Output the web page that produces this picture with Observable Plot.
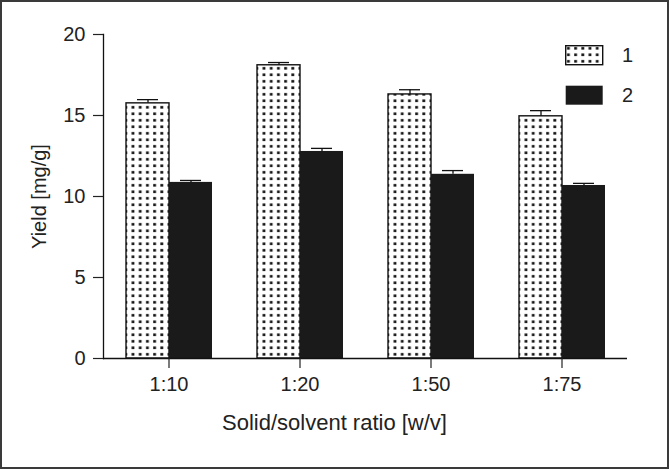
<!DOCTYPE html>
<html>
<head>
<meta charset="utf-8">
<script src="https://cdn.jsdelivr.net/npm/d3@7"></script>
<script src="https://cdn.jsdelivr.net/npm/@observablehq/plot@0.6"></script>
<style>
  html, body { margin: 0; padding: 0; background: #fff; }
  #wrap { position: relative; width: 669px; height: 469px; overflow: hidden; }
  #chart svg text { font-size: 20px; fill: #222; font-family: "Liberation Sans", Arial, sans-serif; }
  #border { position: absolute; left: 0; top: 0; width: 669px; height: 469px; box-sizing: border-box; border: 2px solid #3a3a3a; pointer-events: none; }
  #xtitle { position: absolute; left: 0; width: 669px; top: 412px; text-align: center; font-family: "Liberation Sans", Arial, sans-serif; font-size: 22px; line-height: 22px; color: #222; }
  #legend { position: absolute; left: 565px; top: 45px; font-family: "Liberation Sans", Arial, sans-serif; font-size: 20px; color: #222; }
  .item { position: absolute; left: 0; width: 90px; height: 20px; }
  .item svg { position: absolute; left: 0; top: 0; }
  .item span { position: absolute; left: 57px; top: -2px; line-height: 24px; }
</style>
</head>
<body>
<div id="wrap">
  <div id="chart"></div>
  <div id="xtitle"></div>
  <div id="legend"></div>
  <div id="border"></div>
</div>
<script>
const ratios = ["1:10", "1:20", "1:50", "1:75"];
const seriesNames = ["1", "2"];
const values1 = [15.75, 18.1, 16.3, 14.95];
const values2 = [10.87, 12.78, 11.37, 10.68];
const errors1 = [0.23, 0.17, 0.29, 0.35];
const errors2 = [0.12, 0.19, 0.23, 0.13];
const yTicks = [0, 5, 10, 15, 20];
const xTitle = "Solid/solvent ratio [w/v]";
const yTitle = "Yield [mg/g]";

const rows = [];
ratios.forEach((r, i) => {
  rows.push({ratio: r, series: seriesNames[0], value: values1[i], err: errors1[i]});
  rows.push({ratio: r, series: seriesNames[1], value: values2[i], err: errors2[i]});
});
const s1 = rows.filter(d => d.series === seriesNames[0]);
const s2 = rows.filter(d => d.series === seriesNames[1]);

const chart = Plot.plot({
  width: 669,
  height: 469,
  marginLeft: 103,
  marginRight: 42,
  marginTop: 34,
  marginBottom: 111,
  style: {fontFamily: "'Liberation Sans', Arial, sans-serif", fontSize: "20px", color: "#222", background: "transparent"},
  fx: {domain: ratios, padding: 0},
  x: {domain: seriesNames, paddingInner: 0, paddingOuter: 0.49, axis: null, label: null},
  y: {domain: [0, 20]},
  marks: [
    Plot.barY(s1, {fx: "ratio", x: "series", y: "value", fill: "url(#dots)", stroke: "#111", strokeWidth: 1.4, inset: 0}),
    Plot.barY(s2, {fx: "ratio", x: "series", y: "value", fill: "#1b1a1a", inset: 0}),
    Plot.ruleX(rows, {fx: "ratio", x: "series", y1: "value", y2: d => d.value + d.err, stroke: "#111", strokeWidth: 1.3}),
    Plot.tickY(rows, {fx: "ratio", x: "series", y: d => d.value + d.err, stroke: "#111", strokeWidth: 1.3, insetLeft: 11, insetRight: 11}),
    Plot.ruleY([0], {stroke: "#111", strokeWidth: 1.3}),
    Plot.frame({anchor: "left", facetAnchor: "left", stroke: "#111", strokeWidth: 1.3}),
    Plot.axisY({ticks: yTicks, tickSize: 10, tickPadding: 8, label: yTitle, labelArrow: "none", labelAnchor: "center", labelOffset: 72, fontSize: 20, strokeWidth: 1.2}),
    Plot.axisFx({anchor: "bottom", tickSize: 10, tickPadding: 8, label: null, fontSize: 20, strokeWidth: 1.2})
  ]
});

// dotted pattern definition
const ns = "http://www.w3.org/2000/svg";
function addPattern(svg) {
  const defs = document.createElementNS(ns, "defs");
  const pat = document.createElementNS(ns, "pattern");
  pat.setAttribute("id", "dots");
  pat.setAttribute("patternUnits", "userSpaceOnUse");
  pat.setAttribute("width", "7.2");
  pat.setAttribute("height", "6.5");
  const bg = document.createElementNS(ns, "rect");
  bg.setAttribute("width", "7.2"); bg.setAttribute("height", "6.5"); bg.setAttribute("fill", "#fff");
  const dot = document.createElementNS(ns, "rect");
  dot.setAttribute("x", "2"); dot.setAttribute("y", "2");
  dot.setAttribute("width", "2.8"); dot.setAttribute("height", "2.6"); dot.setAttribute("fill", "#111");
  pat.appendChild(bg); pat.appendChild(dot);
  defs.appendChild(pat);
  svg.insertBefore(defs, svg.firstChild);
}
const svgEl = chart.tagName.toLowerCase() === "svg" ? chart : chart.querySelector("svg");
addPattern(svgEl);
document.getElementById("chart").appendChild(chart);
document.getElementById("xtitle").textContent = xTitle;

// legend
const legend = document.getElementById("legend");
const fills = ["url(#dots)", "#1b1a1a"];
seriesNames.forEach((name, i) => {
  const item = document.createElement("div");
  item.className = "item";
  item.style.top = (i * 40) + "px";
  const sw = document.createElementNS(ns, "svg");
  sw.setAttribute("width", "40"); sw.setAttribute("height", "21");
  const r = document.createElementNS(ns, "rect");
  r.setAttribute("x", "0.7"); r.setAttribute("y", "0.7");
  r.setAttribute("width", "37"); r.setAttribute("height", "19");
  r.setAttribute("fill", fills[i]);
  if (i === 0) { r.setAttribute("stroke", "#111"); r.setAttribute("stroke-width", "1.4"); }
  sw.appendChild(r);
  const t = document.createElement("span");
  t.textContent = name;
  item.appendChild(sw); item.appendChild(t);
  legend.appendChild(item);
});
</script>
</body>
</html>
